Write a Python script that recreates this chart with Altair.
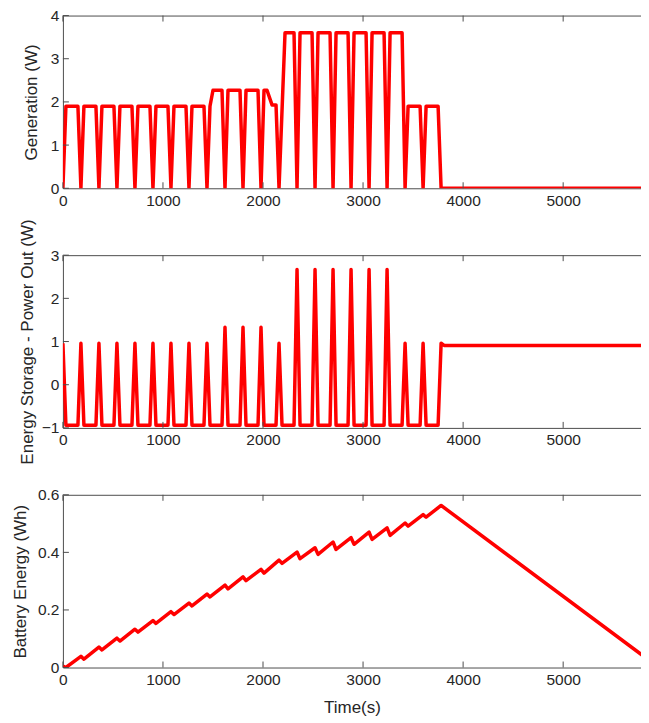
import altair as alt
import pandas as pd

# ---------------- data ----------------
# Generation (W)
gen_t = [0, 30, 150, 180, 210, 330, 360, 390, 510, 540, 570, 690, 720, 750, 870,
         900, 930, 1050, 1080, 1110, 1230, 1260, 1290, 1410,
         1440, 1470, 1500, 1590,
         1620, 1650, 1770, 1800, 1830, 1950,
         1980, 2010, 2040, 2090, 2130,
         2160, 2220, 2310,
         2340, 2370, 2490, 2520, 2550, 2670, 2700, 2730, 2850, 2880, 2910, 3030,
         3060, 3090, 3210, 3240, 3270, 3390,
         3420, 3450, 3570, 3600, 3630, 3750, 3780, 5860]
gen_w = [0, 1.9, 1.9, 0, 1.9, 1.9, 0, 1.9, 1.9, 0, 1.9, 1.9, 0, 1.9, 1.9,
         0, 1.9, 1.9, 0, 1.9, 1.9, 0, 1.9, 1.9,
         0, 1.9, 2.27, 2.27,
         0, 2.27, 2.27, 0, 2.27, 2.27,
         0, 2.27, 2.27, 1.93, 1.93,
         0, 3.6, 3.6,
         0, 3.6, 3.6, 0, 3.6, 3.6, 0, 3.6, 3.6, 0, 3.6, 3.6,
         0, 3.6, 3.6, 0, 3.6, 3.6,
         0, 1.9, 1.9, 0, 1.9, 1.9, 0, 0]

# Energy storage power out (W)
pout_t = [0, 30, 150, 180, 210, 330, 360, 390, 510, 540, 570, 690, 720, 750, 870,
          900, 930, 1050, 1080, 1110, 1230, 1260, 1290, 1410, 1440,
          1470, 1590, 1620, 1650, 1770, 1800, 1830, 1950, 1980,
          2010, 2130, 2160, 2190, 2310, 2340, 2370, 2490, 2520, 2550, 2670, 2700,
          2730, 2850, 2880, 2910, 3030, 3060, 3090, 3210, 3240,
          3270, 3390, 3420, 3450, 3570, 3600, 3630, 3750, 3780, 3810, 5860]
pout_w = [0.96, -0.94, -0.94, 0.96, -0.94, -0.94, 0.96, -0.94, -0.94, 0.96, -0.94, -0.94, 0.96, -0.94, -0.94,
          0.96, -0.94, -0.94, 0.96, -0.94, -0.94, 0.96, -0.94, -0.94, 0.96,
          -0.94, -0.94, 1.33, -0.94, -0.94, 1.33, -0.94, -0.94, 1.33,
          -0.94, -0.94, 0.96, -0.94, -0.94, 2.67, -0.94, -0.94, 2.67, -0.94, -0.94, 2.67,
          -0.94, -0.94, 2.67, -0.94, -0.94, 2.67, -0.94, -0.94, 2.67,
          -0.94, -0.94, 0.96, -0.94, -0.94, 0.96, -0.94, -0.94, 0.96, 0.91, 0.91]

# Battery energy (Wh)
bat_t = [0, 30, 180, 210, 360, 390, 540, 570, 720, 750, 900, 930, 1080, 1110,
         1260, 1290, 1440, 1470, 1620, 1650, 1800, 1830, 1980, 2010, 2160, 2190,
         2340, 2370, 2520, 2550, 2700, 2730, 2880, 2910, 3060, 3090, 3240, 3270,
         3420, 3450, 3600, 3630, 3780, 5860]
bat_wh = [0.005, 0.0, 0.039, 0.029, 0.071, 0.061, 0.102, 0.092, 0.133, 0.123, 0.163, 0.153, 0.194, 0.184,
          0.224, 0.214, 0.255, 0.245, 0.286, 0.273, 0.315, 0.302, 0.341, 0.328, 0.373, 0.362,
          0.401, 0.378, 0.416, 0.393, 0.436, 0.410, 0.451, 0.428, 0.470, 0.445, 0.485, 0.459,
          0.502, 0.491, 0.531, 0.522, 0.563, 0.025]

x_ticks = [0, 1000, 2000, 3000, 4000, 5000]
gen_ticks = [0, 1, 2, 3, 4]
pout_ticks = [-1, 0, 1, 2, 3]
bat_ticks = [0, 0.2, 0.4, 0.6]

# ---------------- styling ----------------
FONT = "Liberation Sans"
TXT = "#262626"
FRAME = "#4d4d4d"
TICK = "#4d4d4d"
TICK_LEN = 6
X_DOMAIN = [0, 5778]
W, H = 579, 173


def panel(t, v, ydom, yticks, ytitle, ytitle_pad, xtitle=None):
    xscale = alt.Scale(domain=X_DOMAIN, nice=False, zero=False)
    yscale = alt.Scale(domain=ydom, nice=False, zero=False)
    df = pd.DataFrame({"t": t, "v": v})
    xaxis_kw = dict(values=x_ticks, format="d", labelFlush=False, ticks=False,
                    domain=True, grid=False, labelPadding=5)
    if xtitle:
        xaxis = alt.Axis(title=xtitle, titlePadding=12, **xaxis_kw)
    else:
        xaxis = alt.Axis(title=None, **xaxis_kw)
    line = alt.Chart(df).mark_line(color="#ff0000", strokeWidth=3.5, strokeJoin="round",
                                   clip=True).encode(
        x=alt.X("t:Q", scale=xscale, axis=xaxis),
        y=alt.Y("v:Q", scale=yscale,
                axis=alt.Axis(values=yticks, format="~g", ticks=False, domain=True,
                              grid=False, title=ytitle, labelPadding=4,
                              titlePadding=ytitle_pad)),
    )
    xt = pd.DataFrame({"x": x_ticks})
    yt = pd.DataFrame({"y": yticks})
    # inward-pointing tick marks (MATLAB style)
    bottom_ticks = alt.Chart(xt).mark_rule(color=TICK, strokeWidth=1).encode(
        x=alt.X("x:Q", scale=xscale, axis=None),
        y=alt.value(H), y2=alt.value(H - TICK_LEN),
    )
    top_ticks = alt.Chart(xt).mark_rule(color=TICK, strokeWidth=1).encode(
        x=alt.X("x:Q", scale=xscale,
                axis=alt.Axis(orient="top", labels=False, ticks=False, domain=True,
                              grid=False, title=None)),
        y=alt.value(0), y2=alt.value(TICK_LEN),
    )
    left_ticks = alt.Chart(yt).mark_rule(color=TICK, strokeWidth=1).encode(
        x=alt.value(0), x2=alt.value(TICK_LEN),
        y=alt.Y("y:Q", scale=yscale, axis=None),
    )
    return alt.layer(line, bottom_ticks, top_ticks, left_ticks).resolve_axis(
        x="independent", y="independent").properties(width=W, height=H)


p1 = panel(gen_t, gen_w, [0, 4], gen_ticks, "Generation (W)", 10)
p2 = panel(pout_t, pout_w, [-1, 3], pout_ticks, "Energy Storage - Power Out (W)", 5)
p3 = panel(bat_t, bat_wh, [0, 0.6], bat_ticks, "Battery Energy (Wh)", 8, xtitle="Time(s)")

chart = alt.vconcat(p1, p2, p3, spacing=67, bounds="flush").properties(
    padding={"left": 3, "top": 0, "right": 0, "bottom": 0}
).configure_view(strokeOpacity=0).configure_axis(
    labelFont=FONT, titleFont=FONT, labelFontSize=15.5, titleFontSize=17,
    labelColor=TXT, titleColor=TXT, titleFontWeight="normal",
    domainColor=FRAME, domainWidth=1,
)

chart.save("out.html", embed_options={"renderer": "svg", "actions": False})
